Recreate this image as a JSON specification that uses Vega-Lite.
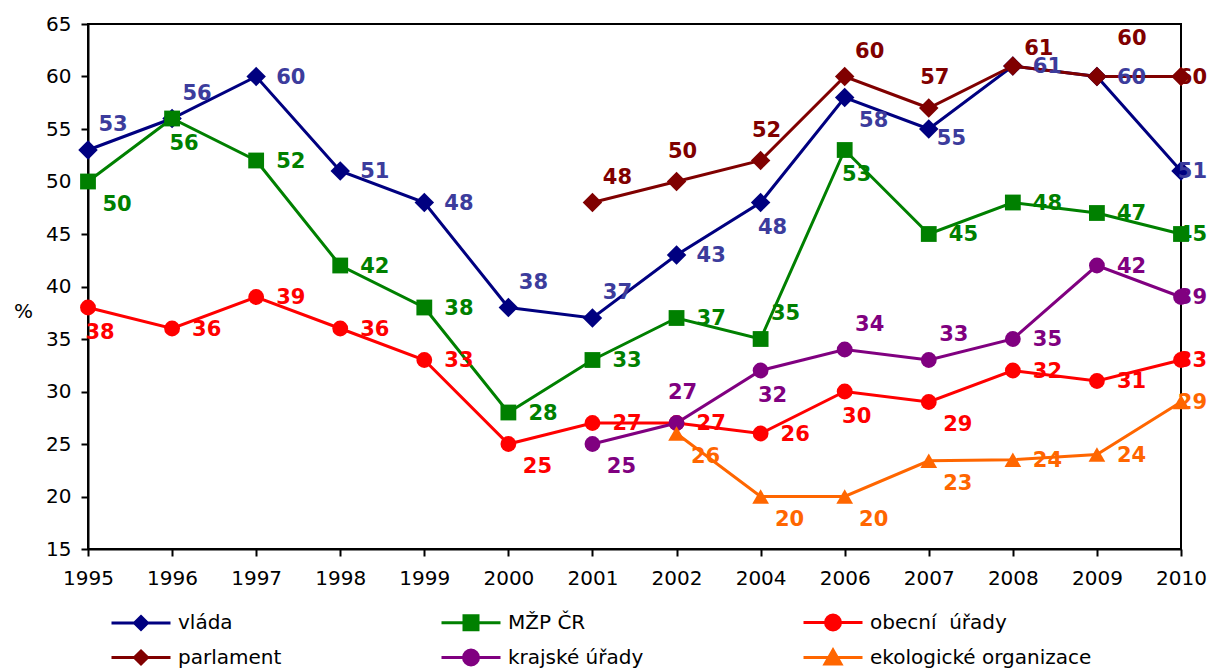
{
  "$schema": "https://vega.github.io/schema/vega-lite/v6.json",
  "width": 1093,
  "height": 525,
  "autosize": {"type": "none"},
  "padding": {"left": 88, "top": 24, "right": 30, "bottom": 122},
  "background": "white",
  "config": {
    "font": "DejaVu Sans",
    "view": {"stroke": "black", "strokeWidth": 2},
    "axis": {
      "labelFont": "DejaVu Sans",
      "labelFontSize": 20,
      "labelColor": "black",
      "tickColor": "black",
      "tickWidth": 2,
      "tickSize": 7,
      "domainColor": "black",
      "domainWidth": 2,
      "grid": false
    }
  },
  "data": {
    "values": [
      {"series": "vláda", "year": "1995", "value": 53},
      {"series": "vláda", "year": "1996", "value": 56},
      {"series": "vláda", "year": "1997", "value": 60},
      {"series": "vláda", "year": "1998", "value": 51},
      {"series": "vláda", "year": "1999", "value": 48},
      {"series": "vláda", "year": "2000", "value": 38},
      {"series": "vláda", "year": "2001", "value": 37},
      {"series": "vláda", "year": "2002", "value": 43},
      {"series": "vláda", "year": "2004", "value": 48},
      {"series": "vláda", "year": "2006", "value": 58},
      {"series": "vláda", "year": "2007", "value": 55},
      {"series": "vláda", "year": "2008", "value": 61},
      {"series": "vláda", "year": "2009", "value": 60},
      {"series": "vláda", "year": "2010", "value": 51},
      {"series": "MŽP ČR", "year": "1995", "value": 50},
      {"series": "MŽP ČR", "year": "1996", "value": 56},
      {"series": "MŽP ČR", "year": "1997", "value": 52},
      {"series": "MŽP ČR", "year": "1998", "value": 42},
      {"series": "MŽP ČR", "year": "1999", "value": 38},
      {"series": "MŽP ČR", "year": "2000", "value": 28},
      {"series": "MŽP ČR", "year": "2001", "value": 33},
      {"series": "MŽP ČR", "year": "2002", "value": 37},
      {"series": "MŽP ČR", "year": "2004", "value": 35},
      {"series": "MŽP ČR", "year": "2006", "value": 53},
      {"series": "MŽP ČR", "year": "2007", "value": 45},
      {"series": "MŽP ČR", "year": "2008", "value": 48},
      {"series": "MŽP ČR", "year": "2009", "value": 47},
      {"series": "MŽP ČR", "year": "2010", "value": 45},
      {"series": "obecní\u00a0 úřady", "year": "1995", "value": 38},
      {"series": "obecní\u00a0 úřady", "year": "1996", "value": 36},
      {"series": "obecní\u00a0 úřady", "year": "1997", "value": 39},
      {"series": "obecní\u00a0 úřady", "year": "1998", "value": 36},
      {"series": "obecní\u00a0 úřady", "year": "1999", "value": 33},
      {"series": "obecní\u00a0 úřady", "year": "2000", "value": 25},
      {"series": "obecní\u00a0 úřady", "year": "2001", "value": 27},
      {"series": "obecní\u00a0 úřady", "year": "2002", "value": 27},
      {"series": "obecní\u00a0 úřady", "year": "2004", "value": 26},
      {"series": "obecní\u00a0 úřady", "year": "2006", "value": 30},
      {"series": "obecní\u00a0 úřady", "year": "2007", "value": 29},
      {"series": "obecní\u00a0 úřady", "year": "2008", "value": 32},
      {"series": "obecní\u00a0 úřady", "year": "2009", "value": 31},
      {"series": "obecní\u00a0 úřady", "year": "2010", "value": 33},
      {"series": "parlament", "year": "2001", "value": 48},
      {"series": "parlament", "year": "2002", "value": 50},
      {"series": "parlament", "year": "2004", "value": 52},
      {"series": "parlament", "year": "2006", "value": 60},
      {"series": "parlament", "year": "2007", "value": 57},
      {"series": "parlament", "year": "2008", "value": 61},
      {"series": "parlament", "year": "2009", "value": 60},
      {"series": "parlament", "year": "2010", "value": 60},
      {"series": "krajské úřady", "year": "2001", "value": 25},
      {"series": "krajské úřady", "year": "2002", "value": 27},
      {"series": "krajské úřady", "year": "2004", "value": 32},
      {"series": "krajské úřady", "year": "2006", "value": 34},
      {"series": "krajské úřady", "year": "2007", "value": 33},
      {"series": "krajské úřady", "year": "2008", "value": 35},
      {"series": "krajské úřady", "year": "2009", "value": 42},
      {"series": "krajské úřady", "year": "2010", "value": 39},
      {"series": "ekologické organizace", "year": "2002", "value": 26},
      {"series": "ekologické organizace", "year": "2004", "value": 20},
      {"series": "ekologické organizace", "year": "2006", "value": 20},
      {"series": "ekologické organizace", "year": "2007", "value": 23.4},
      {"series": "ekologické organizace", "year": "2008", "value": 23.5},
      {"series": "ekologické organizace", "year": "2009", "value": 24},
      {"series": "ekologické organizace", "year": "2010", "value": 29}
    ]
  },
  "encoding": {
    "x": {
      "field": "year",
      "type": "ordinal",
      "scale": {"type": "point", "padding": 0, "domain": ["1995","1996","1997","1998","1999","2000","2001","2002","2004","2006","2007","2008","2009","2010"]},
      "axis": {"title": null, "labelAngle": 0, "labelPadding": 12}
    },
    "y": {
      "field": "value",
      "type": "quantitative",
      "scale": {"domain": [15, 65], "nice": false, "zero": false},
      "axis": {
        "values": [15,20,25,30,35,40,45,50,55,60,65],
        "labelPadding": 10,
        "title": "%",
        "titleAngle": 0,
        "titleX": -65,
        "titleY": 287,
        "titleAlign": "center",
        "titleBaseline": "middle",
        "titleFontSize": 20,
        "titleFontWeight": "normal",
        "titleColor": "black"
      }
    },
    "color": {
      "field": "series",
      "type": "nominal",
      "scale": {
        "domain": ["vláda", "MŽP ČR", "obecní\u00a0 úřady", "parlament", "krajské úřady", "ekologické organizace"],
        "range": ["#000080", "#008000", "#ff0000", "#800000", "#800080", "#ff6600"]
      },
      "legend": {
        "title": null,
        "orient": "none",
        "legendX": 22,
        "legendY": 587,
        "direction": "horizontal",
        "columns": 3,
        "columnPadding": 153,
        "rowPadding": 8,
        "symbolSize": 400,
        "symbolStrokeWidth": 3,
        "symbolType": {"expr": "(datum.value === 'vláda' || datum.value === 'parlament') ? 'M-1,0L4.9,0M1.95,-0.65L2.6,0L1.95,0.65L1.3,0Z' : datum.value === 'MŽP ČR' ? 'M-1,0L4.9,0M1.25,-0.7L2.65,-0.7L2.65,0.7L1.25,0.7Z' : datum.value === 'ekologické organizace' ? 'M-1,0L4.9,0M1.95,-0.75L2.75,0.65L1.15,0.65Z' : 'M-1,0L4.9,0M1.2,0A0.75,0.75,0,1,0,2.7,0A0.75,0.75,0,1,0,1.2,0Z'"},
        "labelFont": "DejaVu Sans",
        "labelFontSize": 20,
        "labelColor": "black",
        "labelOffset": 45,
        "labelLimit": 400,
        "encode": {
          "symbols": {
            "update": {
              "fill": {"scale": "color", "field": "value"},
              "stroke": {"scale": "color", "field": "value"},
              "strokeWidth": {"value": 3},
              "opacity": {"value": 1},
              "size": {"value": 400}
            }
          }
        }
      }
    }
  },
  "layer": [
    {
      "mark": {"type": "line", "strokeWidth": 3}
    },
    {
      "transform": [{"filter": "datum.series === 'vláda'"}],
      "mark": {"type": "point", "filled": true, "opacity": 1, "shape": "diamond", "size": 380}
    },
    {
      "transform": [{"filter": "datum.series === 'MŽP ČR'"}],
      "mark": {"type": "point", "filled": true, "opacity": 1, "shape": "square", "size": 250}
    },
    {
      "transform": [{"filter": "datum.series === 'obecní\u00a0 úřady'"}],
      "mark": {"type": "point", "filled": true, "opacity": 1, "shape": "circle", "size": 250}
    },
    {
      "transform": [{"filter": "datum.series === 'parlament'"}],
      "mark": {"type": "point", "filled": true, "opacity": 1, "shape": "diamond", "size": 380}
    },
    {
      "transform": [{"filter": "datum.series === 'krajské úřady'"}],
      "mark": {"type": "point", "filled": true, "opacity": 1, "shape": "circle", "size": 250}
    },
    {
      "transform": [{"filter": "datum.series === 'ekologické organizace'"}],
      "mark": {"type": "point", "filled": true, "opacity": 1, "shape": "triangle-up", "size": 280}
    },
    {
      "transform": [{"filter": "indexof(['vláda|1995','vláda|1996','vláda|2000','vláda|2001','MŽP ČR|2004','parlament|2001','parlament|2006','krajské úřady|2006','krajské úřady|2007'], datum.series + '|' + datum.year) >= 0"}],
      "mark": {"type": "text", "fontWeight": "bold", "fontSize": 21, "align": "center", "baseline": "middle", "dx": 25, "dy": -25},
      "encoding": {
        "text": {"field": "value", "type": "quantitative", "format": ".0f"},
        "color": {"condition": {"test": "datum.series === 'vláda'", "value": "#3c3c9c"}, "field": "series", "type": "nominal", "legend": null}
      }
    },
    {
      "transform": [{"filter": "datum.series === 'parlament' && datum.year === '2008'"}],
      "mark": {"type": "text", "fontWeight": "bold", "fontSize": 21, "align": "center", "baseline": "middle", "dx": 26, "dy": -17},
      "encoding": {
        "text": {"field": "value", "type": "quantitative", "format": ".0f"},
        "color": {"field": "series", "type": "nominal", "legend": null}
      }
    },
    {
      "transform": [{"filter": "datum.series === 'parlament' && datum.year === '2009'"}],
      "mark": {"type": "text", "fontWeight": "bold", "fontSize": 21, "align": "center", "baseline": "middle", "dx": 35, "dy": -38},
      "encoding": {
        "text": {"field": "value", "type": "quantitative", "format": ".0f"},
        "color": {"field": "series", "type": "nominal", "legend": null}
      }
    },
    {
      "transform": [{"filter": "indexof(['parlament|2002','parlament|2004','parlament|2007','krajské úřady|2002'], datum.series + '|' + datum.year) >= 0"}],
      "mark": {"type": "text", "fontWeight": "bold", "fontSize": 21, "align": "center", "baseline": "middle", "dx": 6, "dy": -30},
      "encoding": {
        "text": {"field": "value", "type": "quantitative", "format": ".0f"},
        "color": {"field": "series", "type": "nominal", "legend": null}
      }
    },
    {
      "transform": [{"filter": "indexof(['vláda|2004','MŽP ČR|1996','MŽP ČR|2006','obecní\u00a0 úřady|1995','obecní\u00a0 úřady|2006','krajské úřady|2004'], datum.series + '|' + datum.year) >= 0"}],
      "mark": {"type": "text", "fontWeight": "bold", "fontSize": 21, "align": "center", "baseline": "middle", "dx": 12, "dy": 25},
      "encoding": {
        "text": {"field": "value", "type": "quantitative", "format": ".0f"},
        "color": {"condition": {"test": "datum.series === 'vláda'", "value": "#3c3c9c"}, "field": "series", "type": "nominal", "legend": null}
      }
    },
    {
      "transform": [{"filter": "indexof(['vláda|2006','MŽP ČR|1995','obecní\u00a0 úřady|2000','obecní\u00a0 úřady|2007','krajské úřady|2001','ekologické organizace|2002','ekologické organizace|2004','ekologické organizace|2006','ekologické organizace|2007'], datum.series + '|' + datum.year) >= 0"}],
      "mark": {"type": "text", "fontWeight": "bold", "fontSize": 21, "align": "center", "baseline": "middle", "dx": 29, "dy": 23},
      "encoding": {
        "text": {"field": "value", "type": "quantitative", "format": ".0f"},
        "color": {"condition": {"test": "datum.series === 'vláda'", "value": "#3c3c9c"}, "field": "series", "type": "nominal", "legend": null}
      }
    },
    {
      "transform": [{"filter": "datum.series === 'vláda' && datum.year === '2007'"}],
      "mark": {"type": "text", "fontWeight": "bold", "fontSize": 21, "align": "left", "baseline": "middle", "dx": 8, "dy": 10},
      "encoding": {
        "text": {"field": "value", "type": "quantitative", "format": ".0f"},
        "color": {"value": "#3c3c9c"}
      }
    },
    {
      "transform": [{"filter": "datum.year === '2010' && datum.series !== 'x'"}],
      "mark": {"type": "text", "fontWeight": "bold", "fontSize": 21, "align": "right", "baseline": "middle", "dx": 26, "dy": 1},
      "encoding": {
        "text": {"field": "value", "type": "quantitative", "format": ".0f"},
        "color": {"condition": {"test": "datum.series === 'vláda'", "value": "#3c3c9c"}, "field": "series", "type": "nominal", "legend": null}
      }
    },
    {
      "transform": [{"filter": "datum.year !== '2010' && indexof(['vláda|1995','vláda|1996','vláda|2000','vláda|2001','MŽP ČR|2004','parlament|2001','parlament|2006','parlament|2008','parlament|2009','krajské úřady|2006','krajské úřady|2007','parlament|2002','parlament|2004','parlament|2007','krajské úřady|2002','vláda|2004','MŽP ČR|1996','MŽP ČR|2006','obecní\u00a0 úřady|1995','obecní\u00a0 úřady|2006','krajské úřady|2004','vláda|2006','MŽP ČR|1995','obecní\u00a0 úřady|2000','obecní\u00a0 úřady|2007','krajské úřady|2001','ekologické organizace|2002','ekologické organizace|2004','ekologické organizace|2006','ekologické organizace|2007','vláda|2007'], datum.series + '|' + datum.year) < 0"}],
      "mark": {"type": "text", "fontWeight": "bold", "fontSize": 21, "align": "left", "baseline": "middle", "dx": 20, "dy": 1},
      "encoding": {
        "text": {"field": "value", "type": "quantitative", "format": ".0f"},
        "color": {"condition": {"test": "datum.series === 'vláda'", "value": "#3c3c9c"}, "field": "series", "type": "nominal", "legend": null}
      }
    }
  ]
}
